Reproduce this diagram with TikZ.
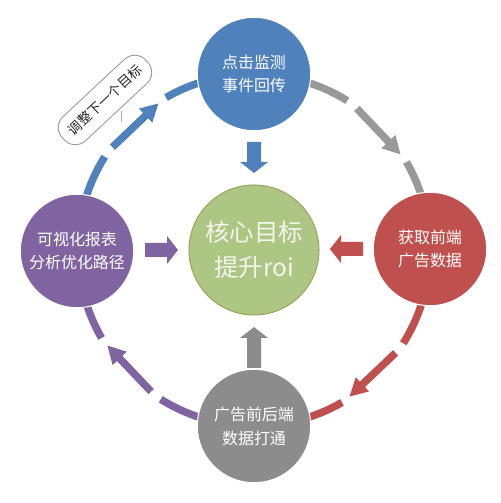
\documentclass[tikz,border=0pt]{standalone}
\usepackage{fontspec}
\setmainfont{Noto Sans CJK SC}
\usetikzlibrary{arrows.meta}
\definecolor{cblue}{HTML}{4F81BD}
\definecolor{cred}{HTML}{C0504D}
\definecolor{cpurple}{HTML}{8064A2}
\definecolor{cgray}{HTML}{8C8C8C}
\definecolor{cgrayarc}{HTML}{999999}
\definecolor{cgreen}{HTML}{AEC683}
\definecolor{cgreenedge}{HTML}{9AA75C}
\definecolor{cgreentext}{HTML}{F2F5EC}
\begin{document}
\begin{tikzpicture}[x=0.02cm,y=0.02cm,
  ringline/.style={line width=0.15cm, line cap=butt},
  ringarrow/.style={ringline, -{Triangle[width=0.36cm,length=0.36cm]}},
  satnode/.style={circle, minimum size=2.27cm, inner sep=0pt, text=white,
    font=\fontsize{9.1}{13.6}\selectfont, align=center, draw=white, line width=0.6pt},
  corenode/.style={circle, minimum size=2.6cm, inner sep=0pt, fill=cgreen, draw=cgreenedge,
    line width=0.6pt, text=cgreentext, font=\fontsize{13.9}{19.8}\selectfont, align=center},
  callout/.style={draw=black!40, fill=white, rounded corners=0.3cm, line width=0.5pt,
    minimum width=2.28cm, minimum height=0.66cm, inner sep=0pt, text=black!85,
    font=\fontsize{7.7}{9}\selectfont},
  pics/barrow/.style={code={\fill (0,-7) -- (#1-11,-7) -- (#1-11,-14) -- (#1,0) -- (#1-11,14) -- (#1-11,7) -- (0,7) -- cycle;}}
]
\useasboundingbox (0,0) rectangle (500,503);
\fill[white] (0,0) rectangle (500,503);
\coordinate (C) at (254,253);

% ring: left -> top (blue)
\draw[ringline, cblue] (C) ++(180:176) arc[start angle=180, end angle=148, radius=176];
\draw[ringarrow, cblue] ([shift={(144:175)}]C) -- ([shift={(123:175)}]C);
\draw[ringline, cblue] (C) ++(120:176) arc[start angle=120, end angle=90, radius=176];
% top -> right (gray)
\draw[ringline, cgrayarc] (C) ++(90:176) arc[start angle=90, end angle=58, radius=176];
\draw[ringarrow, cgrayarc] ([shift={(54:175)}]C) -- ([shift={(33:175)}]C);
\draw[ringline, cgrayarc] (C) ++(30:176) arc[start angle=30, end angle=0, radius=176];
% right -> bottom (red)
\draw[ringline, cred] (C) ++(0:176) arc[start angle=0, end angle=-32, radius=176];
\draw[ringarrow, cred] ([shift={(-36:175)}]C) -- ([shift={(-57:175)}]C);
\draw[ringline, cred] (C) ++(-60:176) arc[start angle=-60, end angle=-90, radius=176];
% bottom -> left (purple)
\draw[ringline, cpurple] (C) ++(-90:176) arc[start angle=-90, end angle=-122, radius=176];
\draw[ringarrow, cpurple] ([shift={(-126:175)}]C) -- ([shift={(-147:175)}]C);
\draw[ringline, cpurple] (C) ++(-150:176) arc[start angle=-150, end angle=-180, radius=176];

% nodes
\node[satnode, fill=cblue] (top) at (254,429) {点击监测\\事件回传};
\node[satnode, fill=cred] (right) at (430,254) {获取前端\\广告数据};
\node[satnode, fill=cgray] (bottom) at (254,77) {广告前后端\\数据打通};
\node[satnode, fill=cpurple] (left) at (77,252) {可视化报表\\分析优化路径};
\node[corenode] (core) at (C) {核心目标\\提升roi};

% block arrows toward the core
\pic[fill=cblue, rotate=-90] at (254,361) {barrow=31};
\pic[fill=cpurple] at (145,253) {barrow=33};
\pic[fill=cgray, rotate=90] at (254,135) {barrow=41};
\pic[fill=cred, rotate=180] at (363,254) {barrow=33};

% callout
\node[callout, rotate=43] (note) at (105,403) {调整下一个目标};
\coordinate (tk1) at (121,392);
\coordinate (tk2) at (121,381);
\draw[black!35, line width=0.5pt] (tk1) -- (tk2);
\end{tikzpicture}
\end{document}
